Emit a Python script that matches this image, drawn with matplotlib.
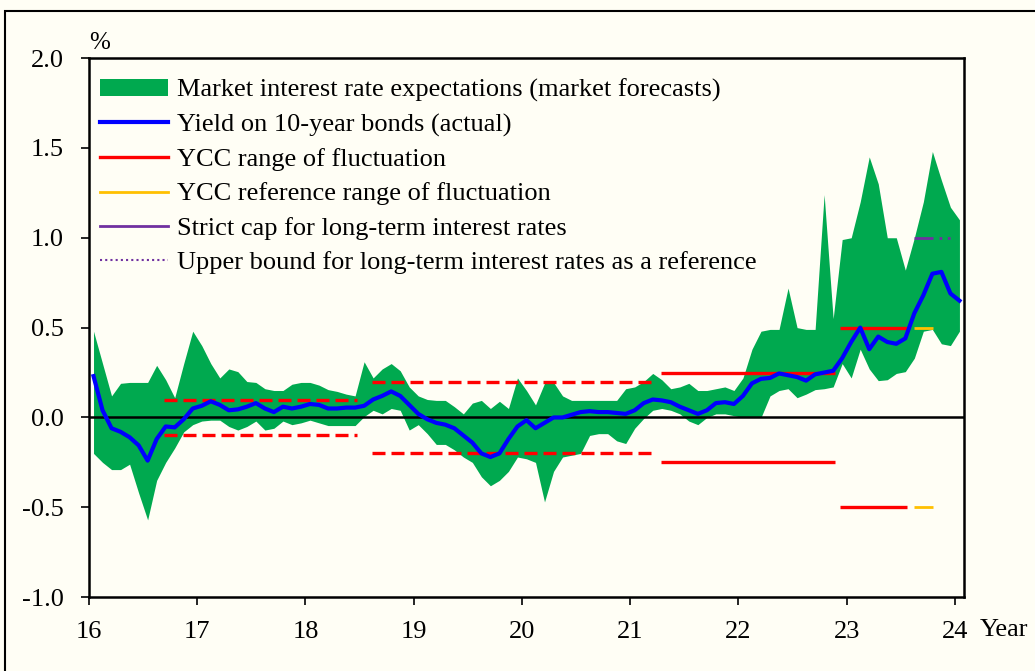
#!/usr/bin/env python3

import numpy as np
import matplotlib
matplotlib.use('Agg')
import matplotlib.pyplot as plt
from matplotlib.patches import Patch, Rectangle
from matplotlib.lines import Line2D

# monthly, Jan 2016 .. Jan 2024
yield_10y = [0.23, 0.04, -0.06, -0.08, -0.11, -0.155, -0.24, -0.12, -0.05, -0.055, -0.01, 0.05,
             0.065, 0.09, 0.07, 0.04, 0.045, 0.06, 0.08, 0.05, 0.03, 0.06, 0.05, 0.06,
             0.075, 0.07, 0.05, 0.05, 0.055, 0.055, 0.065, 0.10, 0.12, 0.145, 0.12, 0.07,
             0.02, -0.01, -0.03, -0.04, -0.06, -0.10, -0.14, -0.20, -0.22, -0.20, -0.12, -0.05,
             -0.015, -0.06, -0.03, 0.0, 0.0, 0.015, 0.03, 0.035, 0.03, 0.03, 0.025, 0.02,
             0.04, 0.08, 0.10, 0.095, 0.085, 0.06, 0.04, 0.02, 0.04, 0.08, 0.085, 0.075,
             0.12, 0.19, 0.215, 0.22, 0.245, 0.235, 0.225, 0.205, 0.24, 0.25, 0.26, 0.33,
             0.42, 0.50, 0.38, 0.45, 0.42, 0.41, 0.44, 0.58, 0.68, 0.80, 0.81, 0.69,
             0.65]

forecast_high = [0.48, 0.30, 0.12, 0.19, 0.195, 0.195, 0.195, 0.29, 0.21, 0.11, 0.30, 0.48,
                 0.40, 0.30, 0.22, 0.27, 0.255, 0.20, 0.195, 0.16, 0.15, 0.15, 0.185, 0.195,
                 0.195, 0.18, 0.155, 0.145, 0.13, 0.12, 0.31, 0.22, 0.27, 0.30, 0.26, 0.17,
                 0.12, 0.10, 0.095, 0.095, 0.06, 0.02, 0.08, 0.095, 0.05, 0.09, 0.05, 0.22,
                 0.15, 0.07, 0.19, 0.195, 0.12, 0.095, 0.095, 0.095, 0.095, 0.095, 0.095, 0.16,
                 0.17, 0.20, 0.245, 0.21, 0.16, 0.17, 0.19, 0.15, 0.15, 0.16, 0.17, 0.15,
                 0.22, 0.38, 0.48, 0.49, 0.49, 0.72, 0.50, 0.49, 0.49, 1.24, 0.55, 0.99,
                 1.0, 1.2, 1.45, 1.3, 1.0, 1.0, 0.82, 1.0, 1.2, 1.48, 1.32, 1.17,
                 1.10]

forecast_low = [-0.2, -0.25, -0.29, -0.29, -0.26, -0.42, -0.57, -0.35, -0.25, -0.17, -0.08, -0.04,
                -0.02, -0.015, -0.015, -0.05, -0.07, -0.05, -0.02, -0.07, -0.06, -0.02, -0.04, -0.03,
                -0.015, -0.03, -0.045, -0.045, -0.045, -0.045, 0.005, 0.04, 0.02, 0.05, 0.04, -0.07,
                -0.04, -0.09, -0.15, -0.15, -0.18, -0.22, -0.25, -0.33, -0.38, -0.35, -0.30, -0.22,
                -0.23, -0.25, -0.47, -0.30, -0.22, -0.21, -0.20, -0.10, -0.09, -0.09, -0.13, -0.145,
                -0.06, -0.005, 0.04, 0.05, 0.04, 0.02, -0.02, -0.04, 0.0, 0.02, 0.02, 0.01,
                0.0, 0.0, 0.0, 0.12, 0.15, 0.16, 0.11, 0.13, 0.155, 0.16, 0.17, 0.30,
                0.22, 0.38, 0.27, 0.205, 0.21, 0.245, 0.255, 0.33, 0.48, 0.49, 0.41, 0.40,
                0.48]

# YCC bands: (start, end, level)
ycc_dashed = [(16.69, 18.48, 0.1), (18.61, 21.19, 0.2)]
ycc_solid = [(21.28, 22.89, 0.25), (22.94, 23.56, 0.5)]
ycc_reference = [(23.62, 23.80, 0.5)]
strict_cap = [(23.62, 23.80, 1.0)]
upper_bound_ref = [(23.85, 24.0, 1.0)]

x_ticks = [16, 17, 18, 19, 20, 21, 22, 23, 24]
y_ticks = [-1.0, -0.5, 0.0, 0.5, 1.0, 1.5, 2.0]

GREEN = '#00A94F'
BLUE = '#0000FF'
RED = '#FF0000'
GOLD = '#FFC000'
PURPLE = '#7030A0'
BG = '#FFFEF5'


def draw_band(ax, spans, color, ls, lw, symmetric=True):
    for x0, x1, lvl in spans:
        ax.plot([x0, x1], [lvl, lvl], color=color, ls=ls, lw=lw, solid_capstyle='butt')
        if symmetric:
            ax.plot([x0, x1], [-lvl, -lvl], color=color, ls=ls, lw=lw, solid_capstyle='butt')


def main():
    plt.rcParams['font.family'] = ['Liberation Serif', 'DejaVu Serif']

    fig = plt.figure(figsize=(10.35, 6.71), dpi=100, facecolor=BG)
    ax = fig.add_axes([0.086, 0.110, 0.845, 0.8035])
    ax.set_facecolor(BG)

    months = np.arange(len(yield_10y))
    x = 16 + (months + 0.5) / 12

    ax.fill_between(x, forecast_low, forecast_high, color=GREEN, lw=0, zorder=1)
    ax.axhline(0, color='black', lw=1.8, zorder=2)
    ax.plot(x, yield_10y, color=BLUE, lw=3.0, zorder=4)

    dash = (0, (3.9, 1.8))
    draw_band(ax, ycc_dashed, RED, dash, 2.4)
    draw_band(ax, ycc_solid, RED, '-', 2.4)
    draw_band(ax, ycc_reference, GOLD, '-', 2.0)
    draw_band(ax, strict_cap, PURPLE, '-', 2.0, symmetric=False)
    draw_band(ax, upper_bound_ref, PURPLE, (0, (1, 2)), 2.0, symmetric=False)

    ax.set_xlim(16, 24.08)
    ax.set_ylim(-1.0, 2.0)
    ax.set_xticks(x_ticks)
    ax.set_xticklabels([str(t) for t in x_ticks])
    ax.set_yticks(y_ticks)
    ax.set_yticklabels(['%.1f' % t for t in y_ticks])
    ax.tick_params(direction='out', length=6, width=1.2, labelsize=19, colors='black')
    ax.tick_params(axis='x', pad=11)
    ax.tick_params(axis='y', pad=12)
    for sp in ax.spines.values():
        sp.set_linewidth(1.8)
        sp.set_color('black')

    ax.text(0.0, 1.008, '%', transform=ax.transAxes, fontsize=18, ha='left', va='bottom')
    ax.text(1.018, -0.06, 'Year', transform=ax.transAxes, fontsize=19, ha='left', va='center')

    handles = [
        Patch(facecolor=GREEN, edgecolor='none'),
        Line2D([], [], color=BLUE, lw=3.0),
        Line2D([], [], color=RED, lw=2.4),
        Line2D([], [], color=GOLD, lw=2.0),
        Line2D([], [], color=PURPLE, lw=2.0),
        Line2D([], [], color=PURPLE, lw=1.5, ls=(0, (1, 1.5))),
    ]
    labels = [
        'Market interest rate expectations (market forecasts)',
        'Yield on 10-year bonds (actual)',
        'YCC range of fluctuation',
        'YCC reference range of fluctuation',
        'Strict cap for long-term interest rates',
        'Upper bound for long-term interest rates as a reference',
    ]
    ax.legend(handles, labels, loc='upper left', frameon=False, fontsize=19,
              handlelength=2.6, handleheight=0.6, handletextpad=0.34,
              labelspacing=0.43, borderpad=0.4, borderaxespad=0.0,
              bbox_to_anchor=(0.0, 0.981))

    # outer frame of the figure
    fig.patches.append(Rectangle((0.005, -0.01), 1.0, 0.993, transform=fig.transFigure,
                                 fill=False, edgecolor='black', lw=1.5))

    fig.savefig('out.png', dpi=100, facecolor=BG)


if __name__ == '__main__':
    main()
